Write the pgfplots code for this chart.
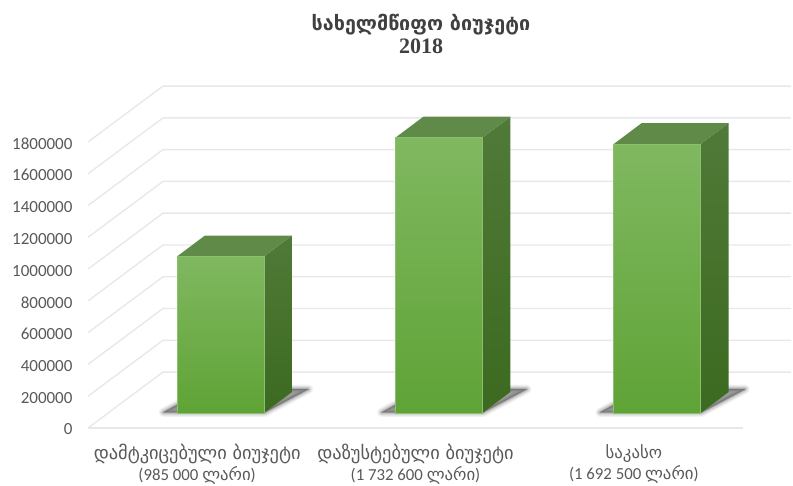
\documentclass[border=0pt]{standalone}
\usepackage{pgfplots}
\pgfplotsset{compat=1.18}
\usepackage{fontspec}
\setmainfont{Carlito}
\newfontfamily\ka{DejaVu Sans}
\newfontfamily\numserif{Liberation Serif}
\definecolor{gridc}{HTML}{E8E8E8}
\definecolor{labelc}{HTML}{595959}
\definecolor{titlec}{HTML}{404040}
\definecolor{fronttop}{HTML}{80B860}
\definecolor{frontbot}{HTML}{5FA336}
\definecolor{sidetop}{HTML}{507A38}
\definecolor{sidebot}{HTML}{3C6A20}
\definecolor{topc}{HTML}{5F8A48}
\definecolor{shadowc}{HTML}{404040}

% side and top faces: l r lback rback value valueback
\newcommand{\boxfaces}[6]{
  \addplot[draw=none,top color=sidetop,bottom color=sidebot] coordinates {(#2,0) (#4,132000) (#4,#6) (#2,#5)} -- cycle;
  \addplot[draw=none,fill=topc] coordinates {(#1,#5) (#3,#6) (#4,#6) (#2,#5)} -- cycle;
}
% soft shadow on the floor, the same polygon stroked wider and wider
\newcommand{\floorshadow}[1]{
  \addplot[draw=shadowc,fill=shadowc,line join=round,line width=9pt,opacity=.07] coordinates {#1} -- cycle;
  \addplot[draw=shadowc,fill=shadowc,line join=round,line width=6.5pt,opacity=.10] coordinates {#1} -- cycle;
  \addplot[draw=shadowc,fill=shadowc,line join=round,line width=4pt,opacity=.15] coordinates {#1} -- cycle;
  \addplot[draw=shadowc,fill=shadowc,line join=round,line width=1.5pt,opacity=.25] coordinates {#1} -- cycle;
}

\pgfplotsset{
  base/.style={
    scale only axis,width=655pt,height=286pt,
    at={(88pt,58pt)},anchor=south west,
    xmin=-0.5,xmax=2.5,clip=false,
  },
  gl/.style={draw=gridc,line width=1.4pt,mark=none},
  front/.style={ybar,bar width=87pt,bar shift=0pt,draw=fronttop!90!white,line width=.6pt,top color=fronttop,bottom color=frontbot},
}

\begin{document}
\begin{tikzpicture}[x=1pt,y=1pt]
\useasboundingbox (0,0) rectangle (793,486);

\node[align=center,text=titlec,font=\fontsize{19.7}{23}\selectfont] at (421,452)
  {{\ka\bfseries სახელმწიფო ბიუჯეტი}\\{\fontsize{22}{23}\selectfont\numserif\bfseries 2018}};

\begin{axis}[base,
  ymin=0,ymax=1800000,
  axis line style={draw=none},
  major tick length=0pt,
  xtick={0,1,2},
  xticklabels={
    {{\fontsize{18.4}{21}\selectfont\ka დამტკიცებული ბიუჯეტი}\\(985 000 {\ka ლარი})},
    {{\fontsize{18.4}{21}\selectfont\ka დაზუსტებული ბიუჯეტი}\\(1 732 600 {\ka ლარი})},
    {{\ka საკასო}\\(1 692 500 {\ka ლარი})}},
  xticklabel style={align=center,text=labelc,yshift=-13pt,font=\fontsize{16.8}{21}\selectfont},
  ytick={0,200000,400000,600000,800000,1000000,1200000,1400000,1600000,1800000},
  yticklabel style={text=labelc,font=\fontsize{17}{20}\selectfont,xshift=-12pt,yshift=-1.5pt},
  scaled y ticks=false,
  /pgf/number format/fixed,
  /pgf/number format/assume math mode=true,
  /pgf/number format/1000 sep={},
]
\addplot[gl] coordinates {(-0.5,0) (2.5,0)};
\addplot[gl] coordinates {(-0.5,0) (-0.1564,352000) (2.72,352000)};
\addplot[gl] coordinates {(-0.5,200000) (-0.1564,552000) (2.72,552000)};
\addplot[gl] coordinates {(-0.5,400000) (-0.1564,752000) (2.72,752000)};
\addplot[gl] coordinates {(-0.5,600000) (-0.1564,952000) (2.72,952000)};
\addplot[gl] coordinates {(-0.5,800000) (-0.1564,1152000) (2.72,1152000)};
\addplot[gl] coordinates {(-0.5,1000000) (-0.1564,1352000) (2.72,1352000)};
\addplot[gl] coordinates {(-0.5,1200000) (-0.1564,1552000) (2.72,1552000)};
\addplot[gl] coordinates {(-0.5,1400000) (-0.1564,1752000) (2.72,1752000)};
\addplot[gl] coordinates {(-0.5,1600000) (-0.1564,1952000) (2.72,1952000)};
\addplot[gl] coordinates {(-0.5,1800000) (-0.1564,2152000) (2.72,2152000)};
\end{axis}

% bars sit 15px deeper than the front floor line, so their zero is lifted
\begin{axis}[base,hide axis,ymin=-94400,ymax=1705600]
\floorshadow{(-0.155,4000) (0.31,4000) (0.51,150000) (0.04,150000)}
\floorshadow{(0.845,4000) (1.31,4000) (1.51,150000) (1.04,150000)}
\floorshadow{(1.845,4000) (2.31,4000) (2.51,150000) (2.04,150000)}

\boxfaces{-0.0924}{0.3061}{0.0358}{0.4343}{985000}{1117000}
\boxfaces{0.9076}{1.3061}{1.0358}{1.4343}{1732600}{1864600}
\boxfaces{1.9076}{2.3061}{2.0358}{2.4343}{1692500}{1824500}

\addplot[front] coordinates {(0.1069,985000)};
\addplot[front] coordinates {(1.1069,1732600)};
\addplot[front] coordinates {(2.1069,1692500)};
\end{axis}
\end{tikzpicture}
\end{document}
